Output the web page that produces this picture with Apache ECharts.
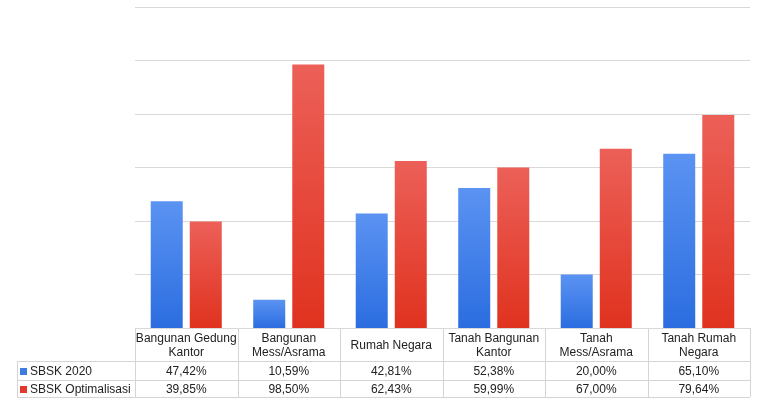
<!DOCTYPE html>
<html>
<head>
<meta charset="utf-8">
<style>
html,body{margin:0;padding:0;background:#fff;}
#c{width:759px;height:403px;}
</style>
<script src="https://cdn.jsdelivr.net/npm/echarts@6/dist/echarts.min.js"></script>
</head>
<body>
<div id="c"></div>
<script>
var categories = ["Bangunan Gedung\nKantor", "Bangunan\nMess/Asrama", "Rumah Negara", "Tanah Bangunan\nKantor", "Tanah\nMess/Asrama", "Tanah Rumah\nNegara"];
var seriesNames = ["SBSK 2020", "SBSK Optimalisasi"];
var sbsk2020 = [47.42, 10.59, 42.81, 52.38, 20.00, 65.10];
var sbskOpt = [39.85, 98.50, 62.43, 59.99, 67.00, 79.64];
var yMax = 120, yInterval = 20;

var W = 759, H = 403;
var gridLeft = 135, gridRight = 750, gridTop = 7, gridBottom = 328;
var tableLeft = 17;
var rowY = [328, 361, 380, 397];
var borderColor = '#d4d4d4';
var fontFam = '"Liberation Sans", Arial, sans-serif';

function fmt(v){ return v.toFixed(2).replace('.', ',') + '%'; }

var chart = echarts.init(document.getElementById('c'), null, {renderer:'canvas'});

var blueGrad = new echarts.graphic.LinearGradient(0,0,0,1,[{offset:0,color:'#5b93f2'},{offset:1,color:'#2b6de0'}]);
var redGrad = new echarts.graphic.LinearGradient(0,0,0,1,[{offset:0,color:'#ec6058'},{offset:1,color:'#e0321f'}]);

var g = [];
var colW = (gridRight - gridLeft) / categories.length;
// horizontal lines
g.push({type:'line', shape:{x1:gridLeft,y1:rowY[0]+0.5,x2:gridRight,y2:rowY[0]+0.5}, style:{stroke:borderColor,lineWidth:1}});
for (var r=1;r<rowY.length;r++){
  g.push({type:'line', shape:{x1:tableLeft,y1:rowY[r]+0.5,x2:gridRight,y2:rowY[r]+0.5}, style:{stroke:borderColor,lineWidth:1}});
}
// vertical lines
g.push({type:'line', shape:{x1:tableLeft+0.5,y1:rowY[1],x2:tableLeft+0.5,y2:rowY[3]}, style:{stroke:borderColor,lineWidth:1}});
for (var i=0;i<=categories.length;i++){
  var x = Math.round(gridLeft + i*colW) + 0.5;
  g.push({type:'line', shape:{x1:x,y1:rowY[0],x2:x,y2:rowY[3]}, style:{stroke:borderColor,lineWidth:1}});
}
var rows = [sbsk2020, sbskOpt];
var mColors = ['#3d7ddf','#e0392d'];
for (var i=0;i<categories.length;i++){
  var cx = gridLeft + (i+0.5)*colW;
  g.push({type:'text', x:cx, y:(rowY[0]+rowY[1])/2+1, style:{text:categories[i], align:'center', verticalAlign:'middle', font:'12px '+fontFam, fill:'#222', lineHeight:14}});
  for (var r=0;r<2;r++){
    g.push({type:'text', x:cx, y:(rowY[r+1]+rowY[r+2])/2+1, style:{text:fmt(rows[r][i]), align:'center', verticalAlign:'middle', font:'12px '+fontFam, fill:'#222'}});
  }
}
for (var r=0;r<2;r++){
  var cy = (rowY[r+1]+rowY[r+2])/2;
  g.push({type:'rect', shape:{x:20,y:Math.round(cy-3),width:7,height:7}, style:{fill:mColors[r]}});
  g.push({type:'text', x:30, y:cy+1, style:{text:seriesNames[r], align:'left', verticalAlign:'middle', font:'12px '+fontFam, fill:'#222'}});
}

chart.setOption({
  animation:false,
  backgroundColor:'#fff',
  grid:{left:gridLeft, right:W-gridRight, top:gridTop, bottom:H-gridBottom, containLabel:false},
  xAxis:{type:'category', data:categories, axisLine:{show:false}, axisTick:{show:false}, axisLabel:{show:false}},
  yAxis:{type:'value', min:0, max:yMax, interval:yInterval, axisLabel:{show:false}, axisLine:{show:false},
         axisTick:{show:false}, splitLine:{lineStyle:{color:'#d9d9d9', width:1}}},
  series:[
    {name:seriesNames[0], type:'bar', data:sbsk2020, barWidth:32, barGap:'22%', itemStyle:{color:blueGrad}},
    {name:seriesNames[1], type:'bar', data:sbskOpt, barWidth:32, itemStyle:{color:redGrad}}
  ],
  graphic:g
});
</script>
</body>
</html>
